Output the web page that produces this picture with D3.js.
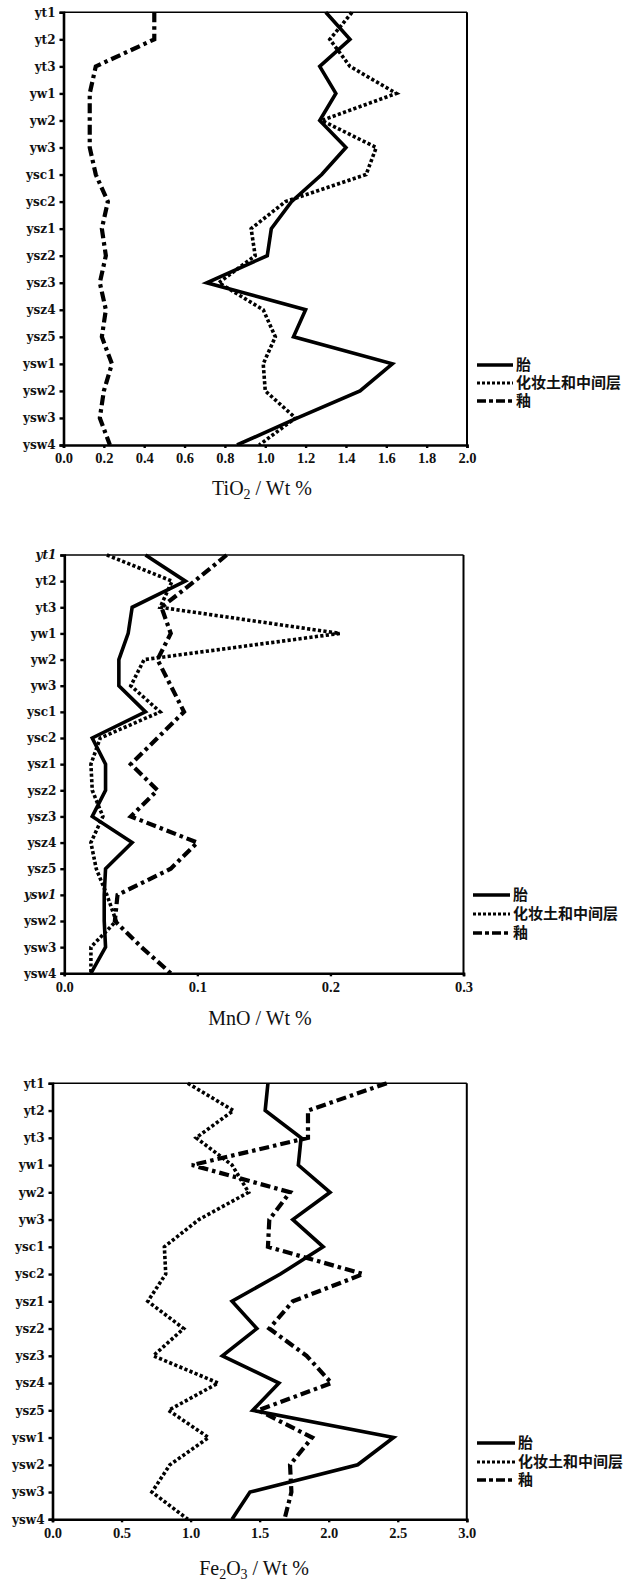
<!DOCTYPE html>
<html><head><meta charset="utf-8">
<script src="https://cdn.jsdelivr.net/npm/d3@7"></script>
<style>
html,body{margin:0;padding:0;background:#fff;}
svg{display:block;}
</style></head>
<body>
<svg id="c" width="626" height="1581"></svg>
<script>
const categories = ["yt1","yt2","yt3","yw1","yw2","yw3","ysc1","ysc2","ysz1","ysz2","ysz3","ysz4","ysz5","ysw1","ysw2","ysw3","ysw4"];
const seriesNames = ["胎","化妆土和中间层","釉"];

const tio2Body  = [1.30,1.42,1.27,1.35,1.27,1.40,1.28,1.13,1.03,1.01,0.71,1.20,1.14,1.63,1.47,1.16,0.86];
const tio2Slip  = [1.43,1.32,1.42,1.65,1.28,1.55,1.50,1.10,0.93,0.95,0.77,0.99,1.05,0.99,1.00,1.15,0.97];
const tio2Glaze = [0.45,0.45,0.16,0.13,0.13,0.13,0.16,0.22,0.19,0.21,0.18,0.21,0.19,0.24,0.20,0.18,0.23];
const tio2Ticks = [0,0.2,0.4,0.6,0.8,1.0,1.2,1.4,1.6,1.8,2.0];

const mnoBody  = [0.061,0.091,0.051,0.048,0.041,0.041,0.061,0.021,0.031,0.031,0.021,0.051,0.031,0.030,0.030,0.031,0.020];
const mnoSlip  = [0.032,0.081,0.072,0.207,0.060,0.050,0.072,0.027,0.020,0.021,0.029,0.020,0.024,0.032,0.039,0.020,0.020];
const mnoGlaze = [0.122,0.098,0.073,0.080,0.070,0.080,0.090,0.070,0.050,0.070,0.050,0.100,0.080,0.040,0.038,0.058,0.080];
const mnoTicks = [0,0.1,0.2,0.3];
const mnoItalic = ["yt1","ysw1"];

const feBody  = [1.56,1.54,1.80,1.78,2.01,1.74,1.96,1.65,1.30,1.48,1.23,1.64,1.45,2.47,2.21,1.43,1.30];
const feSlip  = [0.98,1.31,1.04,1.30,1.42,1.06,0.81,0.82,0.69,0.95,0.73,1.20,0.84,1.13,0.85,0.72,0.98];
const feGlaze = [2.42,1.85,1.85,1.01,1.72,1.57,1.56,2.25,1.74,1.57,1.84,2.02,1.49,1.88,1.72,1.73,1.68];
const feTicks = [0,0.5,1.0,1.5,2.0,2.5,3.0];

const svg = d3.select("#c");
const styles = [
  {w:3.6, dash:null},
  {w:3.6, dash:"3.2,2.3"},
  {w:4.2, dash:"10,4,3.5,4"}
];
const SERIF = '"Liberation Serif","Times New Roman",serif';
const DSERIF = '"DejaVu Serif",serif';

function panel(o){
  const g = svg.append("g");
  const x = d3.scaleLinear().domain(o.domain).range([o.left,o.right]);
  const y = d3.scalePoint().domain(categories).range([o.top,o.bottom]).padding(0);
  g.append("line").attr("x1",o.left).attr("x2",o.right).attr("y1",o.top).attr("y2",o.top).attr("stroke","#000").attr("stroke-width",1.6);
  g.append("line").attr("x1",o.right).attr("x2",o.right).attr("y1",o.top).attr("y2",o.bottom).attr("stroke","#000").attr("stroke-width",2);
  const ax = g.append("g").attr("transform",`translate(0,${o.bottom})`)
    .call(d3.axisBottom(x).tickValues(o.ticks).tickFormat(d3.format(o.fmt)).tickSize(3).tickPadding(5));
  const ay = g.append("g").attr("transform",`translate(${o.left},0)`)
    .call(d3.axisLeft(y).tickSize(4).tickPadding(4));
  [ax,ay].forEach(a=>{
    a.attr("font-family",null).attr("font-size",null);
    a.select(".domain").attr("stroke","#000").attr("stroke-width",2.6);
    a.selectAll(".tick line").attr("stroke","#000").attr("stroke-width",2.4);
    a.selectAll("text").attr("fill","#111");
  });
  ax.selectAll("text").style("font-family",SERIF).style("font-size","14.5px").style("font-weight","bold");
  ay.selectAll("text").style("font-family",DSERIF).style("font-size","12px").style("font-weight","bold")
    .style("font-style",d=>(o.italic && o.italic.includes(d))?"italic":"normal");
  const clipId = "clip"+o.id;
  svg.append("clipPath").attr("id",clipId).append("rect")
    .attr("x",o.left).attr("y",o.top-2).attr("width",o.right-o.left).attr("height",o.bottom-o.top+2);
  const line = d3.line().x(d=>x(d)).y((d,i)=>y(categories[i]));
  o.series.forEach((s,k)=>{
    g.append("path").datum(s).attr("d",line).attr("fill","none").attr("stroke","#000")
      .attr("stroke-width",styles[k].w).attr("stroke-dasharray",styles[k].dash)
      .attr("stroke-linejoin","miter").attr("clip-path",`url(#${clipId})`);
  });
  const t = g.append("text").attr("x",o.tx).attr("y",o.ty).attr("text-anchor","middle")
    .style("font-family",SERIF).style("font-size","20px").attr("fill","#111");
  o.title.forEach(p=>{
    const ts = t.append("tspan").text(p.t);
    if(p.sub){ ts.style("font-size","14px").attr("dy",4); }
    else if(p.after){ ts.attr("dy",-4); }
  });
  const lg = g.append("g");
  seriesNames.forEach((n,k)=>{
    const yy = o.leg.y[k];
    lg.append("line").attr("x1",o.leg.x1).attr("x2",o.leg.x2).attr("y1",yy).attr("y2",yy)
      .attr("stroke","#000").attr("stroke-width",k===1?3:3.6).attr("stroke-dasharray",k===0?null:(k===1?"3,2":"9,3,4,3"));
    lg.append("text").attr("x",o.leg.x2+3).attr("y",yy+5).text(n)
      .style("font-family","'Noto Sans CJK SC',sans-serif").style("font-weight","bold").style("font-size","15px").attr("fill","#111");
  });
}

panel({id:1, domain:[0,2], left:63.5, right:467, top:12.3, bottom:445, ticks:tio2Ticks, fmt:".1f",
  series:[tio2Body,tio2Slip,tio2Glaze], tx:262, ty:495,
  title:[{t:"TiO"},{t:"2",sub:true},{t:" / Wt %",after:true}],
  leg:{x1:477, x2:513, y:[365,383,401]}});

panel({id:2, domain:[0,0.3], left:64.3, right:463.5, top:555, bottom:973.3, ticks:mnoTicks, fmt:".1f",
  series:[mnoBody,mnoSlip,mnoGlaze], tx:260, ty:1025, italic:mnoItalic,
  title:[{t:"MnO / Wt %"}],
  leg:{x1:473, x2:510, y:[895,914,933]}});

panel({id:3, domain:[0,3], left:52.5, right:466.8, top:1083.3, bottom:1519.3, ticks:feTicks, fmt:".1f",
  series:[feBody,feSlip,feGlaze], tx:254, ty:1575,
  title:[{t:"Fe"},{t:"2",sub:true},{t:"O",after:true},{t:"3",sub:true},{t:" / Wt %",after:true}],
  leg:{x1:477, x2:515, y:[1443,1462,1480]}});
</script>
</body></html>
